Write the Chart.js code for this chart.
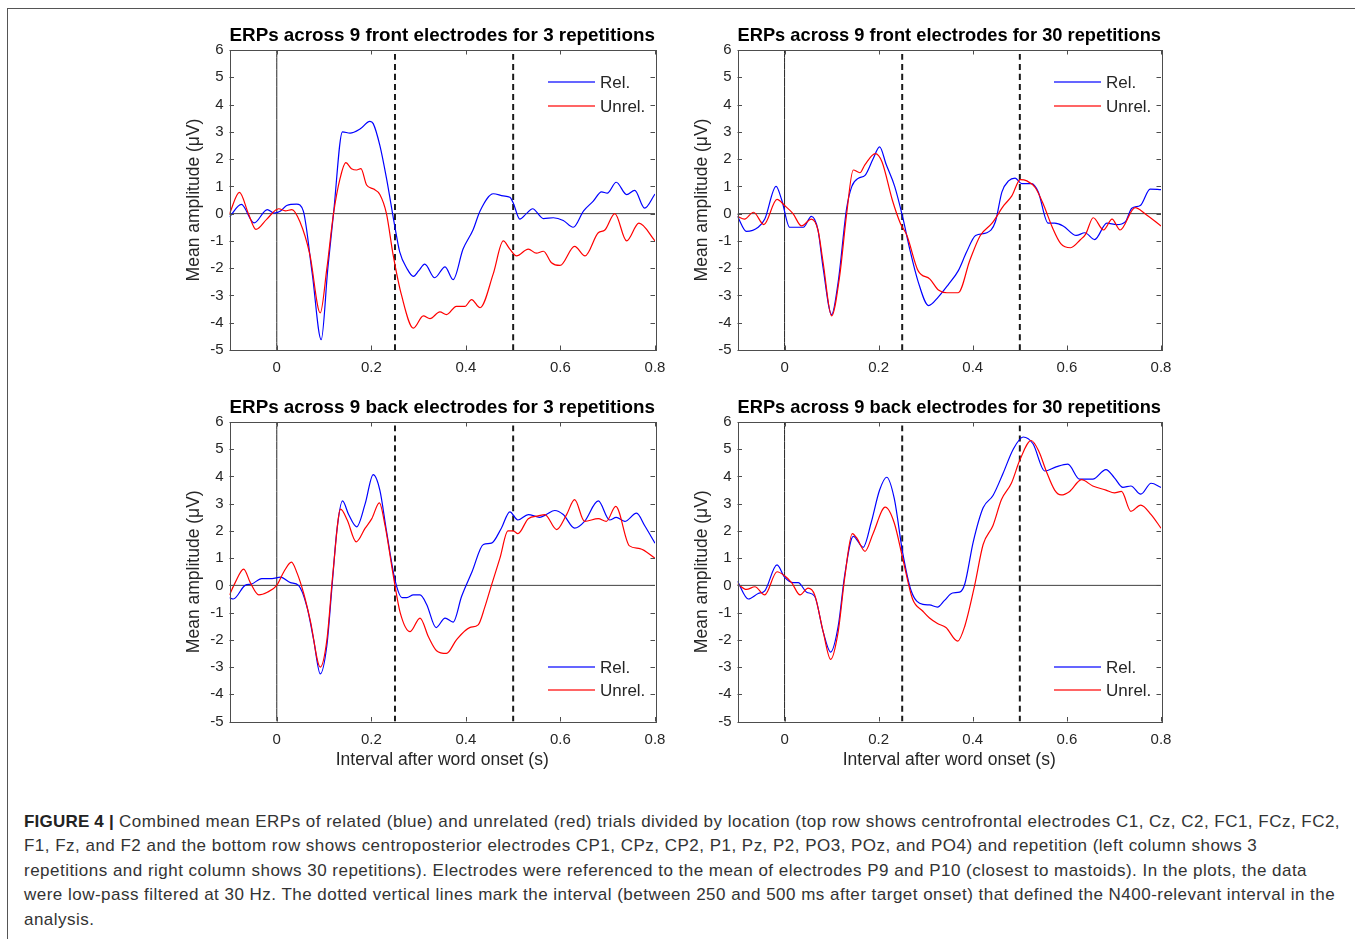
<!DOCTYPE html>
<html>
<head>
<meta charset="utf-8">
<script src="https://cdn.jsdelivr.net/npm/chart.js@4"></script>
<style>
  html, body { margin: 0; padding: 0; background: #fff; }
  body { width: 1355px; height: 939px; position: relative; overflow: hidden; font-family: "Liberation Sans", Arial, sans-serif; }
  .frame { position: absolute; left: 7px; top: 8px; right: -4px; bottom: -4px; border-top: 1.5px solid #555; border-left: 1.5px solid #555; }
  canvas { position: absolute; }
  .caption { position: absolute; left: 24px; top: 810px; font-size: 17px; letter-spacing: 0.48px; line-height: 24.4px; color: #333; white-space: nowrap; }
  .caption b { color: #222; letter-spacing: 0.2px; }
</style>
</head>
<body>
<div class="frame"></div>
<canvas id="c1" width="530" height="355" style="left:150px;top:20px"></canvas>
<canvas id="c2" width="528" height="355" style="left:658px;top:20px"></canvas>
<canvas id="c3" width="530" height="379" style="left:150px;top:392px"></canvas>
<canvas id="c4" width="528" height="379" style="left:658px;top:392px"></canvas>
<div class="caption">
<b>FIGURE 4 |</b> Combined mean ERPs of related (blue) and unrelated (red) trials divided by location (top row shows centrofrontal electrodes C1, Cz, C2, FC1, FCz, FC2,<br>
F1, Fz, and F2 and the bottom row shows centroposterior electrodes CP1, CPz, CP2, P1, Pz, P2, PO3, POz, and PO4) and repetition (left column shows 3<br>
repetitions and right column shows 30 repetitions). Electrodes were referenced to the mean of electrodes P9 and P10 (closest to mastoids). In the plots, the data<br>
were low-pass filtered at 30 Hz. The dotted vertical lines mark the interval (between 250 and 500 ms after target onset) that defined the N400-relevant interval in the<br>
analysis.
</div>
<script>
// axes
const xTicks = [0, 0.2, 0.4, 0.6, 0.8];
const yTicks = [-5, -4, -3, -2, -1, 0, 1, 2, 3, 4, 5, 6];
const xMin = -0.1, xMax = 0.8, yMin = -5, yMax = 6;
const windowEdges = [0.25, 0.5]; // N400 interval (s)

// [time (s), amplitude (uV)]
const front3Rel = [[-0.1,-0.12],[-0.075,0.34],[-0.048,-0.34],[-0.02,0.15],[-0.006,0.02],[0.008,0.1],[0.021,0.3],[0.042,0.35],[0.056,0.1],[0.075,-2.2],[0.094,-4.62],[0.108,-2.0],[0.12,0],[0.139,3.0],[0.155,2.95],[0.176,3.1],[0.197,3.38],[0.204,3.3],[0.218,2.5],[0.232,1.3],[0.25,-0.5],[0.26,-1.4],[0.275,-2.0],[0.289,-2.3],[0.3,-2.1],[0.313,-1.85],[0.334,-2.35],[0.356,-1.95],[0.373,-2.42],[0.394,-1.3],[0.415,-0.6],[0.43,0.1],[0.458,0.73],[0.479,0.65],[0.493,0.6],[0.5,0.4],[0.514,-0.2],[0.528,0],[0.541,0.18],[0.564,-0.18],[0.585,-0.15],[0.606,-0.25],[0.627,-0.5],[0.649,0.1],[0.669,0.45],[0.687,0.8],[0.699,0.75],[0.718,1.15],[0.74,0.7],[0.757,0.85],[0.778,0.2],[0.8,0.72]];
const front3Unrel = [[-0.1,0],[-0.079,0.78],[-0.06,0],[-0.044,-0.58],[-0.021,-0.2],[0.004,0.18],[0.018,0.1],[0.032,0.15],[0.049,-0.3],[0.07,-1.5],[0.092,-3.64],[0.106,-2.0],[0.12,0],[0.134,1.3],[0.146,1.87],[0.158,1.65],[0.169,1.6],[0.178,1.65],[0.19,1.05],[0.205,0.9],[0.218,0.7],[0.232,0],[0.246,-1.5],[0.264,-3.0],[0.289,-4.2],[0.31,-3.75],[0.324,-3.85],[0.345,-3.6],[0.359,-3.7],[0.38,-3.4],[0.398,-3.4],[0.412,-3.15],[0.43,-3.45],[0.458,-2.2],[0.479,-1.0],[0.493,-1.3],[0.507,-1.55],[0.532,-1.3],[0.549,-1.45],[0.564,-1.38],[0.581,-1.8],[0.599,-1.9],[0.63,-1.2],[0.652,-1.55],[0.68,-0.7],[0.694,-0.6],[0.715,0],[0.74,-1.0],[0.766,-0.35],[0.8,-1.0]];
const front30Rel = [[-0.1,-0.1],[-0.081,-0.65],[-0.056,-0.5],[-0.042,-0.2],[-0.018,1.0],[-0.006,0.5],[0.011,-0.5],[0.026,-0.5],[0.04,-0.5],[0.057,-0.1],[0.071,-0.6],[0.082,-2.0],[0.1,-3.7],[0.114,-2.5],[0.132,0.2],[0.143,1.0],[0.157,1.3],[0.171,1.4],[0.188,2.0],[0.202,2.45],[0.216,1.8],[0.234,1.0],[0.252,-0.2],[0.266,-1.3],[0.284,-2.5],[0.306,-3.37],[0.327,-3.05],[0.348,-2.6],[0.369,-2.1],[0.387,-1.4],[0.406,-0.8],[0.43,-0.7],[0.448,-0.3],[0.462,0.8],[0.476,1.2],[0.49,1.3],[0.504,1.1],[0.525,1.1],[0.539,0.8],[0.56,-0.35],[0.574,-0.35],[0.592,-0.45],[0.62,-0.8],[0.638,-0.7],[0.659,-0.95],[0.685,-0.35],[0.706,-0.4],[0.724,-0.3],[0.738,0.2],[0.756,0.3],[0.777,0.9],[0.8,0.88]];
const front30Unrel = [[-0.1,-0.1],[-0.085,-0.2],[-0.066,0.05],[-0.044,-0.4],[-0.016,0.52],[0,0.3],[0.018,0],[0.036,-0.45],[0.057,-0.2],[0.071,-0.6],[0.082,-1.8],[0.1,-3.75],[0.117,-2.3],[0.132,0],[0.146,1.6],[0.16,1.5],[0.171,1.8],[0.193,2.2],[0.207,1.9],[0.229,0.5],[0.246,-0.35],[0.26,-0.8],[0.284,-2.1],[0.309,-2.4],[0.327,-2.8],[0.345,-2.9],[0.369,-2.9],[0.394,-1.7],[0.416,-0.8],[0.441,-0.35],[0.466,0.3],[0.483,0.65],[0.501,1.25],[0.515,1.2],[0.533,0.95],[0.551,0.3],[0.569,-0.5],[0.587,-1.1],[0.608,-1.25],[0.629,-0.95],[0.64,-0.75],[0.656,-0.15],[0.678,-0.6],[0.696,-0.2],[0.713,-0.6],[0.745,0.22],[0.766,0],[0.8,-0.45]];
const back3Rel = [[-0.1,-0.45],[-0.092,-0.5],[-0.067,0],[-0.053,0.05],[-0.032,0.25],[-0.01,0.25],[0.008,0.3],[0.029,0.1],[0.046,0],[0.064,-0.8],[0.078,-2.0],[0.092,-3.25],[0.106,-2.2],[0.117,0],[0.127,2.0],[0.139,3.1],[0.152,2.6],[0.169,2.15],[0.187,3.0],[0.204,4.07],[0.218,3.5],[0.232,2.0],[0.25,0.2],[0.265,-0.45],[0.275,-0.45],[0.289,-0.35],[0.303,-0.35],[0.317,-0.7],[0.337,-1.55],[0.356,-1.2],[0.373,-1.35],[0.391,-0.4],[0.413,0.5],[0.437,1.5],[0.454,1.55],[0.475,2.1],[0.493,2.7],[0.51,2.4],[0.532,2.6],[0.556,2.5],[0.57,2.6],[0.588,2.75],[0.606,2.6],[0.63,2.1],[0.651,2.35],[0.68,3.1],[0.704,2.4],[0.718,2.5],[0.736,2.35],[0.761,2.65],[0.778,2.2],[0.8,1.55]];
const back3Unrel = [[-0.1,-0.35],[-0.088,0.1],[-0.07,0.6],[-0.056,0.1],[-0.038,-0.35],[-0.02,-0.25],[0,0],[0.015,0.5],[0.031,0.85],[0.043,0.45],[0.057,-0.3],[0.071,-1.3],[0.092,-3.0],[0.106,-2.0],[0.119,0.5],[0.135,2.8],[0.149,2.4],[0.168,1.6],[0.187,2.1],[0.201,2.45],[0.217,3.03],[0.229,2.2],[0.247,0.3],[0.261,-1.0],[0.282,-1.7],[0.303,-1.2],[0.321,-1.9],[0.338,-2.4],[0.359,-2.5],[0.38,-2.0],[0.408,-1.55],[0.426,-1.45],[0.44,-0.8],[0.454,0],[0.472,1.0],[0.489,2.0],[0.5,2.0],[0.51,1.9],[0.532,2.45],[0.553,2.55],[0.567,2.6],[0.592,2.05],[0.613,2.6],[0.63,3.15],[0.651,2.35],[0.68,2.45],[0.697,2.35],[0.717,2.9],[0.746,1.45],[0.768,1.35],[0.8,1.0]];
const back30Rel = [[-0.1,0.15],[-0.077,-0.5],[-0.056,-0.3],[-0.042,-0.2],[-0.016,0.75],[0,0.3],[0.018,0.1],[0.029,0.1],[0.047,-0.25],[0.064,-0.4],[0.082,-1.7],[0.098,-2.45],[0.114,-1.5],[0.128,0.4],[0.146,1.8],[0.167,1.4],[0.184,2.3],[0.202,3.5],[0.217,3.97],[0.233,3.2],[0.251,1.2],[0.269,-0.2],[0.294,-0.7],[0.308,-0.72],[0.325,-0.8],[0.34,-0.55],[0.357,-0.28],[0.372,-0.25],[0.383,0.05],[0.401,1.6],[0.422,2.85],[0.443,3.3],[0.464,4.1],[0.486,5.0],[0.507,5.45],[0.528,5.2],[0.553,4.2],[0.577,4.35],[0.602,4.45],[0.627,3.9],[0.655,3.9],[0.683,4.25],[0.701,3.95],[0.719,3.6],[0.736,3.65],[0.757,3.35],[0.779,3.75],[0.8,3.6]];
const back30Unrel = [[-0.1,0.05],[-0.081,-0.15],[-0.063,-0.05],[-0.042,-0.35],[-0.016,0.5],[0,0.35],[0.015,0.1],[0.033,-0.35],[0.05,-0.1],[0.064,-0.35],[0.082,-1.7],[0.098,-2.72],[0.114,-1.7],[0.128,0.3],[0.144,1.9],[0.153,1.75],[0.171,1.25],[0.188,1.9],[0.214,2.87],[0.233,2.3],[0.251,1.0],[0.272,-0.5],[0.294,-0.95],[0.308,-1.2],[0.325,-1.4],[0.343,-1.55],[0.368,-2.05],[0.383,-1.5],[0.404,0],[0.422,1.5],[0.443,2.2],[0.461,3.15],[0.482,3.75],[0.5,4.6],[0.524,5.32],[0.541,4.9],[0.556,4.2],[0.574,3.5],[0.588,3.32],[0.606,3.45],[0.631,3.88],[0.655,3.65],[0.683,3.5],[0.701,3.4],[0.716,3.45],[0.736,2.72],[0.757,2.95],[0.779,2.6],[0.8,2.1]];

const relColor = '#0000ff';
const unrelColor = '#ff0000';

const toPoints = (arr) => arr.map(([x, y]) => ({ x, y }));

// box with inward ticks, like a matlab axes
const matlabBox = {
  id: 'matlabBox',
  afterDatasetsDraw(chart) {
    const { ctx, chartArea: a, scales } = chart;
    const len = 4.5;
    ctx.save();
    ctx.strokeStyle = '#4d4d4d';
    ctx.lineWidth = 1;
    ctx.beginPath();
    xTicks.forEach(v => {
      const px = Math.round(scales.x.getPixelForValue(v)) + 0.5;
      ctx.moveTo(px, a.bottom); ctx.lineTo(px, a.bottom - len);
      ctx.moveTo(px, a.top); ctx.lineTo(px, a.top + len);
    });
    yTicks.forEach(v => {
      const py = Math.round(scales.y.getPixelForValue(v)) + 0.5;
      ctx.moveTo(a.left, py); ctx.lineTo(a.left + len, py);
      ctx.moveTo(a.right, py); ctx.lineTo(a.right - len, py);
    });
    ctx.stroke();
    ctx.strokeRect(Math.round(a.left) + 0.5, Math.round(a.top) + 0.5, Math.round(a.right - a.left), Math.round(a.bottom - a.top));
    ctx.restore();
  }
};

// legend drawn inside the plot area
const erpLegend = {
  id: 'erpLegend',
  afterDraw(chart, args, opts) {
    const { ctx, chartArea: a } = chart;
    const y0 = opts.where === 'top' ? a.top + 32 : a.bottom - 55;
    const rows = [['Rel.', relColor], ['Unrel.', unrelColor]];
    ctx.save();
    ctx.setLineDash([]);
    ctx.font = '17px "Liberation Sans", Arial, sans-serif';
    ctx.textBaseline = 'middle';
    ctx.textAlign = 'left';
    rows.forEach(([label, color], i) => {
      const y = Math.round(y0 + i * 23.5);
      ctx.fillStyle = color;
      ctx.fillRect(a.right - 107, y - 0.6, 47, 1.2);
      ctx.fillStyle = '#262626';
      ctx.fillText(label, a.right - 55, y + 1);
    });
    ctx.restore();
  }
};

function makeChart(id, title, rel, unrel, where, showXTitle) {
  const ctx = document.getElementById(id).getContext('2d');
  const refLines = [
    { label: 'zero', data: [{ x: xMin, y: 0 }, { x: xMax, y: 0 }], borderColor: '#404040', borderWidth: 1, order: 6 },
    { label: 'onset', data: [{ x: 0, y: yMin }, { x: 0, y: yMax }], borderColor: '#262626', borderWidth: 1, order: 6 }
  ];
  windowEdges.forEach(t => refLines.push({
    label: 'edge', data: [{ x: t, y: yMin }, { x: t, y: yMax }],
    borderColor: '#1a1a1a', borderWidth: 2, borderDash: [6, 4], order: 5
  }));
  return new Chart(ctx, {
    type: 'line',
    data: {
      datasets: [
        { label: 'Rel.', data: toPoints(rel), borderColor: relColor, borderWidth: 1.2, order: 1 },
        { label: 'Unrel.', data: toPoints(unrel), borderColor: unrelColor, borderWidth: 1.2, order: 0 },
        ...refLines
      ]
    },
    options: {
      responsive: false,
      animation: false,
      layout: { padding: { left: 33.5, right: 25, top: 0, bottom: 0 } },
      elements: {
        point: { radius: 0 },
        line: { cubicInterpolationMode: 'monotone', fill: false }
      },
      scales: {
        x: {
          type: 'linear', min: xMin, max: xMax,
          afterBuildTicks: (s) => { s.ticks = xTicks.map(v => ({ value: v })); },
          afterFit: (s) => { s.height = showXTitle ? 49.5 : 25; },
          grid: { display: false, drawTicks: false },
          border: { display: false },
          ticks: { padding: 9, color: '#262626', font: { size: 15 }, maxRotation: 0, callback: (v) => String(v) },
          title: { display: showXTitle, text: 'Interval after word onset (s)', color: '#262626', font: { size: 17.5 }, padding: 0 }
        },
        y: {
          type: 'linear', min: yMin, max: yMax,
          afterBuildTicks: (s) => { s.ticks = yTicks.map(v => ({ value: v })); },
          afterFit: (s) => { s.width = 46; },
          grid: { display: false, drawTicks: false },
          border: { display: false },
          ticks: { padding: 6, color: '#262626', font: { size: 15 }, callback: (v) => String(v) },
          title: { display: true, text: 'Mean amplitude (μV)', color: '#262626', font: { size: 17.5 }, padding: 0 }
        }
      },
      plugins: {
        legend: { display: false },
        tooltip: { enabled: false },
        title: {
          display: true, text: title, fullSize: false, color: '#000',
          font: { size: 19, weight: 'bold' }, padding: { top: 4.5, bottom: 2.7 }
        },
        erpLegend: { where }
      }
    },
    plugins: [matlabBox, erpLegend]
  });
}

Chart.defaults.font.family = '"Liberation Sans", Arial, sans-serif';

makeChart('c1', 'ERPs across 9 front electrodes for 3 repetitions', front3Rel, front3Unrel, 'top', false);
makeChart('c2', 'ERPs across 9 front electrodes for 30 repetitions', front30Rel, front30Unrel, 'top', false);
makeChart('c3', 'ERPs across 9 back electrodes for 3 repetitions', back3Rel, back3Unrel, 'bottom', true);
makeChart('c4', 'ERPs across 9 back electrodes for 30 repetitions', back30Rel, back30Unrel, 'bottom', true);
</script>
</body>
</html>
